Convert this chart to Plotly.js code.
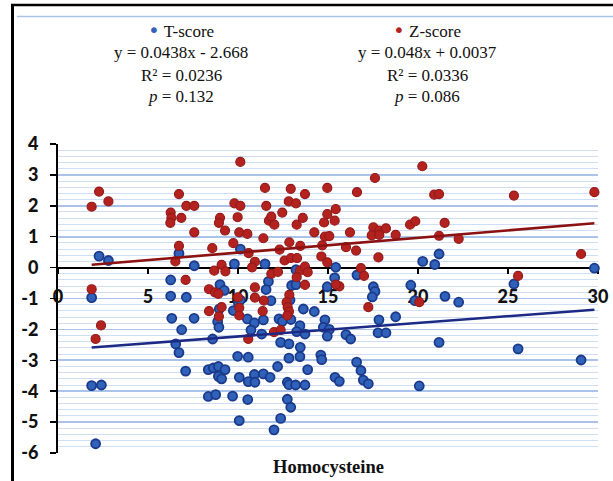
<!DOCTYPE html>
<html>
<head>
<meta charset="utf-8">
<script src="https://cdn.plot.ly/plotly-3.0.1.min.js"></script>
<style>html,body{margin:0;padding:0;background:#fff;}#chart{width:613px;height:481px;}</style>
</head>
<body>
<div id="chart"></div>
<script>
// T-score series (blue)
const homocysteineT = [2.28,2.8,1.87,1.87,2.41,2.09,
  6.72,7.57,6.26,6.26,7.13,6.32,7.56,6.87,6.54,6.72,7.09,
  10.13,9.8,11.5,13.22,9.0,9.24,11.69,11.56,11.83,12.98,13.22,12.89,10.02,10.13,
  8.96,8.87,8.94,9.74,10.52,10.91,10.72,11.41,11.32,12.28,12.46,12.94,13.44,13.26,13.63,14.24,13.72,
  8.59,12.37,12.83,13.46,9.98,10.57,12.83,13.44,12.2,13.87,
  8.35,8.63,8.91,9.28,8.91,9.09,10.07,10.91,10.57,10.94,11.41,11.78,12.74,12.83,13.2,13.72,
  8.35,8.76,9.7,10.54,12.74,12.93,10.07,12.37,12.0,
  14.6,14.65,
  15.43,15.37,14.96,16.61,17.52,17.61,17.46,19.6,19.83,
  14.83,14.74,15.07,14.96,16.0,16.26,17.83,18.76,17.78,18.22,
  15.39,15.63,16.59,16.83,16.96,17.24,20.07,
  21.5,22.26,25.33,21.17,25.56,29.06,29.8,20.26,20.93,21.17];
const tScore = [0.37,0.23,-0.97,-3.82,-3.80,-5.70,
  0.46,0.06,-0.40,-0.92,-0.96,-1.64,-1.64,-2.01,-2.47,-2.75,-3.35,
  0.60,0.12,0.12,-0.07,-0.55,-0.74,-0.45,-0.71,-1.07,-0.58,-0.55,-1.05,-1.14,-1.05,
  -1.34,-1.75,-1.93,-1.39,-1.66,-1.79,-2.02,-1.69,-2.15,-1.66,-1.74,-1.68,-1.88,-2.07,-1.34,-1.42,-2.15,
  -2.31,-2.42,-2.47,-2.58,-2.87,-2.90,-2.93,-2.88,-3.2,-3.3,
  -3.3,-3.25,-3.2,-3.3,-3.52,-3.6,-3.55,-3.46,-3.69,-3.71,-3.44,-3.55,-3.71,-3.79,-3.8,-3.8,
  -4.17,-4.11,-4.16,-4.27,-4.26,-4.52,-4.95,-4.88,-5.25,
  -2.83,-2.98,
  0.01,-0.33,-0.62,-0.24,-0.62,-0.77,-0.95,-0.57,-1.07,
  -1.69,-1.93,-2.0,-2.22,-2.17,-2.31,-1.69,-1.59,-2.11,-2.11,
  -3.55,-3.68,-3.06,-3.33,-3.64,-3.76,-3.83,
  -0.93,-1.12,-0.53,-2.42,-2.63,-2.99,-0.02,0.2,0.1,0.44];

// Z-score series (red)
const homocysteineZ = [1.87,2.28,2.8,1.87,2.39,2.09,
  6.26,6.3,6.24,6.72,6.85,7.13,7.57,7.57,6.72,6.52,7.09,
  10.13,11.5,12.93,13.72,9.8,10.13,11.57,12.82,13.22,12.46,
  9.0,8.94,9.98,11.72,11.85,12.02,13.26,13.6,9.28,10.07,10.52,11.41,12.85,9.74,8.57,10.59,12.31,13.46,14.24,
  12.59,12.94,13.28,10.94,10.78,9.09,8.68,9.3,11.85,12.22,13.44,13.26,13.72,13.87,13.72,
  8.39,8.72,8.91,10.94,10.94,11.44,12.85,12.7,10.0,
  8.39,9.09,8.94,10.07,10.07,11.37,10.57,12.0,12.37,12.76,12.83,12.74,
  14.96,16.61,17.61,15.43,14.96,15.37,14.78,16.22,14.83,15.07,14.68,16.0,16.56,
  17.52,17.85,17.43,17.85,18.22,18.76,17.8,14.63,14.96,16.83,17.0,15.63,15.44,
  19.56,19.85,20.24,20.9,21.17,21.48,21.17,22.26,25.33,29.8,29.06,25.56,20.07,17.24];
const zScore = [1.97,2.46,2.14,-0.70,-1.87,-2.31,
  1.78,1.61,1.45,2.38,1.61,2.0,2.0,1.14,0.70,0.2,-0.40,
  3.42,2.58,2.55,2.38,2.08,2.0,2.0,2.14,2.08,1.78,
  1.61,1.45,1.63,1.52,1.65,1.39,1.39,1.61,1.2,1.14,1.09,0.95,0.82,0.79,0.63,0.47,0.58,0.70,1.14,
  0.23,0.31,0.31,0.19,0.01,0.09,-0.10,-0.12,-0.20,-0.14,-0.10,-0.31,0.03,-0.15,-0.56,
  -0.70,-0.80,-0.85,-0.64,-0.97,-1.07,-0.88,-1.12,-0.96,
  -1.41,-1.28,-1.58,-1.30,-1.55,-1.41,-2.31,-2.09,-2.02,-1.28,-1.42,-1.55,
  2.58,2.44,2.9,1.89,1.73,1.52,1.46,1.14,1.0,1.02,0.72,0.66,0.55,
  1.3,1.2,1.04,1.06,1.27,1.06,0.33,0.36,0.17,-0.02,-0.27,-0.61,-0.55,
  1.39,1.5,3.28,2.36,2.38,1.45,1.03,0.93,2.33,2.44,0.44,-0.27,-1.12,-1.28];

// Regression fits (from the chart's equations)
const tFit = {slope: 0.0438, intercept: -2.668};
const zFit = {slope: 0.048, intercept: 0.0037};

// Tick labels
const xTickVals = [0,5,10,15,20,25,30];
const xTickText = ["0","5","10","15","20","25","30"];
const yTickVals = [-6,-5,-4,-3,-2,-1,0,1,2,3,4];
const yTickText = ["-6","-5","-4","-3","-2","-1","0","1","2","3","4"];

// Legend/stat texts
const tLabels = ["T-score","y = 0.0438x - 2.668","R² = 0.0236","<i>p</i> = 0.132"];
const zLabels = ["Z-score","y = 0.048x + 0.0037","R² = 0.0336","<i>p</i> = 0.086"];

const blueFill = '#2f62b8', blueEdge = '#1b3a8c', blueLine = '#1c2a85';
const redFill = '#b3221f', redEdge = '#941a18', redLine = '#8c1212';

function fitLine(xs, fit) {
  const x0 = Math.min(...xs), x1 = Math.max(...xs);
  return {x: [x0, x1], y: [fit.slope * x0 + fit.intercept, fit.slope * x1 + fit.intercept]};
}
const tl = fitLine(homocysteineT, tFit);
const zl = fitLine(homocysteineZ, zFit);

const traces = [
  {type: 'scatter', mode: 'markers', x: homocysteineT, y: tScore, name: 'T-score',
   marker: {size: 9, color: blueFill, line: {color: blueEdge, width: 1.8}}, cliponaxis: false},
  {type: 'scatter', mode: 'markers', x: homocysteineZ, y: zScore, name: 'Z-score',
   marker: {size: 9, color: redFill, line: {color: redEdge, width: 1.2}}, cliponaxis: false},
  {type: 'scatter', mode: 'lines', x: tl.x, y: tl.y, line: {color: blueLine, width: 2.6}, hoverinfo: 'skip'},
  {type: 'scatter', mode: 'lines', x: zl.x, y: zl.y, line: {color: redLine, width: 2.6}, hoverinfo: 'skip'}
];

// pixel helpers for paper coords
const L = 58, R = 598, T = 144, B = 453;
const px = v => (v - L) / (R - L);
const py = v => (B - v) / (B - T);

const annFont = {family: 'Liberation Serif, Times New Roman, serif', size: 17, color: '#111'};
const rowsY = [30, 52.5, 75, 97];
const annotations = [];
function addColumn(labels, cx, dotColor) {
  labels.forEach((t, i) => {
    const txt = i === 0 ? `<span style="font-family:DejaVu Sans;font-size:20px;color:${dotColor}">•</span> ${t}` : t;
    annotations.push({xref: 'paper', yref: 'paper', x: px(cx), y: py(rowsY[i]), xanchor: 'center', yanchor: 'middle',
      text: txt, showarrow: false, font: annFont});
  });
}
addColumn(tLabels, 181, blueFill);
addColumn(zLabels, 427, redFill);
annotations.push({xref: 'paper', yref: 'paper', x: 0.5, y: py(467), xanchor: 'center', yanchor: 'middle',
  text: '<b>Homocysteine</b>', showarrow: false,
  font: {family: 'Liberation Serif, Times New Roman, serif', size: 18.5, color: '#111'}});

const tickFont = {family: 'Lato, Liberation Sans, sans-serif', size: 18, color: '#111', weight: 900};

const layout = {
  width: 613, height: 481,
  margin: {l: L, r: 613 - R, t: T, b: 481 - B, pad: 0},
  paper_bgcolor: '#fff', plot_bgcolor: '#fff',
  showlegend: false,
  xaxis: {range: [0, 30], tickmode: 'array', tickvals: xTickVals, ticktext: xTickText,
    anchor: 'free', position: 0.6, showline: true, linecolor: '#000', linewidth: 2,
    ticks: 'outside', ticklen: 5, tickwidth: 1.5, tickcolor: '#000', ticklabelstandoff: 8,
    showgrid: false, zeroline: false, layer: 'below traces', tickfont: tickFont, fixedrange: true},
  yaxis: {range: [-6, 4], tickmode: 'array', tickvals: yTickVals, ticktext: yTickText,
    showline: true, linecolor: '#000', linewidth: 2, ticks: 'outside', ticklen: 6, tickwidth: 1.5, tickcolor: '#000',
    ticklabelstandoff: 8,
    showgrid: true, gridcolor: '#a9c4e8', gridwidth: 1.6, zeroline: false, layer: 'below traces', tickfont: tickFont,
    minor: {tickmode: 'linear', tick0: 0, dtick: 0.2, showgrid: true, gridcolor: '#cfdef2', gridwidth: 1, ticks: ''},
    fixedrange: true},
  annotations: annotations,
  shapes: [
    {type: 'line', xref: 'paper', yref: 'paper', x0: px(12.5), x1: px(12.5), y0: py(4), y1: py(482), line: {color: '#000', width: 3}},
    {type: 'line', xref: 'paper', yref: 'paper', x0: px(11), x1: px(614), y0: py(5), y1: py(5), line: {color: '#000', width: 2.5}},
    {type: 'line', xref: 'paper', yref: 'paper', x0: px(17), x1: px(614), y0: py(16.5), y1: py(16.5), line: {color: '#a9c4e8', width: 1.5}}
  ]
};

Plotly.newPlot('chart', traces, layout, {displayModeBar: false, staticPlot: true});
</script>
</body>
</html>
